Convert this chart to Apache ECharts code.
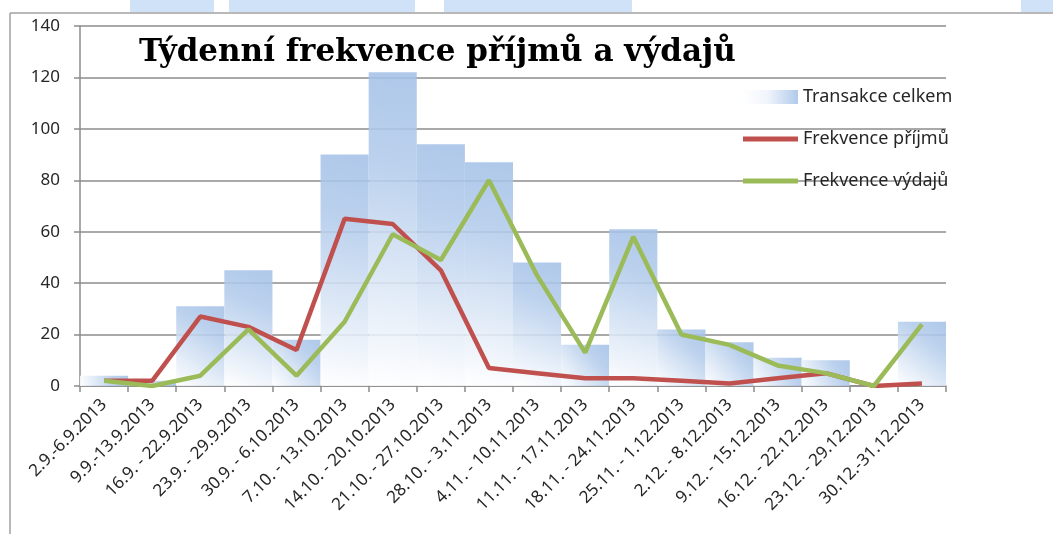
<!DOCTYPE html>
<html>
<head>
<meta charset="utf-8">
<script src="https://cdn.jsdelivr.net/npm/echarts@6/dist/echarts.min.js"></script>
<style>
  html, body { margin: 0; padding: 0; background: #fff; }
  #chart { width: 1053px; height: 534px; }
</style>
</head>
<body>
<div id="chart"></div>
<script>
"use strict";
// týdny 2013
const weeks = [
    "2.9.-6.9.2013", "9.9.-13.9.2013", "16.9. - 22.9.2013", "23.9. - 29.9.2013",
    "30.9. - 6.10.2013", "7.10. - 13.10.2013", "14.10. - 20.10.2013", "21.10. - 27.10.2013",
    "28.10. - 3.11.2013", "4.11. - 10.11.2013", "11.11. - 17.11.2013", "18.11. - 24.11.2013",
    "25.11. - 1.12.2013", "2.12. - 8.12.2013", "9.12. - 15.12.2013", "16.12. - 22.12.2013",
    "23.12. - 29.12.2013", "30.12.-31.12.2013",
];
const transakceCelkem = [4, 2, 31, 45, 18, 90, 122, 94, 87, 48, 16, 61, 22, 17, 11, 10, 0, 25];
const frekvencePrijmu = [2, 2, 27, 23, 14, 65, 63, 45, 7, 5, 3, 3, 2, 1, 3, 5, 0, 1];
const frekvenceVydaju = [2, 0, 4, 22, 4, 25, 59, 49, 80, 43, 13, 58, 20, 16, 8, 5, 0, 24];
const yTicks = { min: 0, max: 140, interval: 20 };

const txt = "#262626";
const axisGray = "#8c8c8c";
const font = "'Noto Sans', sans-serif";

const barFill = new echarts.graphic.LinearGradient(1, 0, 0, 1, [
    { offset: 0, color: "#a4c1e7" },
    { offset: 0.3, color: "#b2cbeb" },
    { offset: 1, color: "#ffffff" },
]);
const legendBarFill = new echarts.graphic.LinearGradient(0, 0, 1, 0, [
    { offset: 0, color: "#ffffff" },
    { offset: 0.45, color: "#eef3fb" },
    { offset: 1, color: "#a6c3e8" },
]);

const chart = echarts.init(document.getElementById("chart"), null, { renderer: "canvas" });
chart.setOption({
    animation: false,
    backgroundColor: "#ffffff",
    title: {
        text: "Týdenní frekvence příjmů a výdajů",
        left: 134,
        top: 32,
        textStyle: { fontFamily: "'DejaVu Serif', serif", fontWeight: "bold", fontSize: 31, color: "#000" },
    },
    legend: {
        orient: "vertical",
        left: 738,
        top: 83,
        itemWidth: 55,
        itemHeight: 14,
        itemGap: 24,
        textStyle: { fontFamily: font, fontSize: 18, color: txt },
        data: [
            { name: "Transakce celkem", icon: "rect", itemStyle: { color: legendBarFill } },
            { name: "Frekvence příjmů", icon: "path://M0,0h55v5h-55z", itemStyle: { color: "#c0504d" } },
            { name: "Frekvence výdajů", icon: "path://M0,0h55v5h-55z", itemStyle: { color: "#9bbb59" } },
        ],
    },
    grid: { left: 80, right: 107, top: 26, bottom: 148 },
    xAxis: {
        type: "category",
        data: weeks,
        boundaryGap: true,
        axisLine: { lineStyle: { color: axisGray, width: 1.5 } },
        axisTick: { show: true, length: 6, lineStyle: { color: axisGray, width: 1.5 } },
        axisLabel: { rotate: 45, interval: 0, fontFamily: font, fontSize: 17, color: txt, margin: 16 },
    },
    yAxis: {
        type: "value",
        min: yTicks.min,
        max: yTicks.max,
        interval: yTicks.interval,
        axisLine: { show: true, lineStyle: { color: axisGray, width: 1.5 } },
        axisTick: { show: true, length: 6, lineStyle: { color: axisGray, width: 1.5 } },
        axisLabel: { fontFamily: font, fontSize: 17, color: txt, margin: 20 },
        splitLine: { lineStyle: { color: axisGray, width: 1.5 } },
    },
    graphic: [
        // rámeček grafu a zbytky grafu nad ním
        { type: "line", shape: { x1: 10, y1: 13, x2: 1053, y2: 13 }, style: { stroke: "#a0a0a0", lineWidth: 1.5 }, silent: true },
        { type: "line", shape: { x1: 10, y1: 13, x2: 10, y2: 534 }, style: { stroke: "#a0a0a0", lineWidth: 1.5 }, silent: true },
        { type: "rect", shape: { x: 130, y: 0, width: 84, height: 12 }, style: { fill: "#cfe2f7" }, silent: true },
        { type: "rect", shape: { x: 229, y: 0, width: 186, height: 12 }, style: { fill: "#cfe2f7" }, silent: true },
        { type: "rect", shape: { x: 444, y: 0, width: 188, height: 12 }, style: { fill: "#cfe2f7" }, silent: true },
        { type: "rect", shape: { x: 1021, y: 0, width: 32, height: 12 }, style: { fill: "#cfe2f7" }, silent: true },
    ],
    series: [
        {
            name: "Transakce celkem",
            type: "bar",
            data: transakceCelkem,
            barCategoryGap: "0%",
            itemStyle: { color: barFill, opacity: 0.88 },
            z: 1,
        },
        {
            name: "Frekvence příjmů",
            type: "line",
            data: frekvencePrijmu,
            showSymbol: false,
            symbol: "none",
            lineStyle: { color: "#c0504d", width: 4.5 },
            itemStyle: { color: "#c0504d" },
            z: 3,
        },
        {
            name: "Frekvence výdajů",
            type: "line",
            data: frekvenceVydaju,
            showSymbol: false,
            symbol: "none",
            lineStyle: { color: "#9bbb59", width: 4.5 },
            itemStyle: { color: "#9bbb59" },
            z: 4,
        },
    ],
});
</script>
</body>
</html>
